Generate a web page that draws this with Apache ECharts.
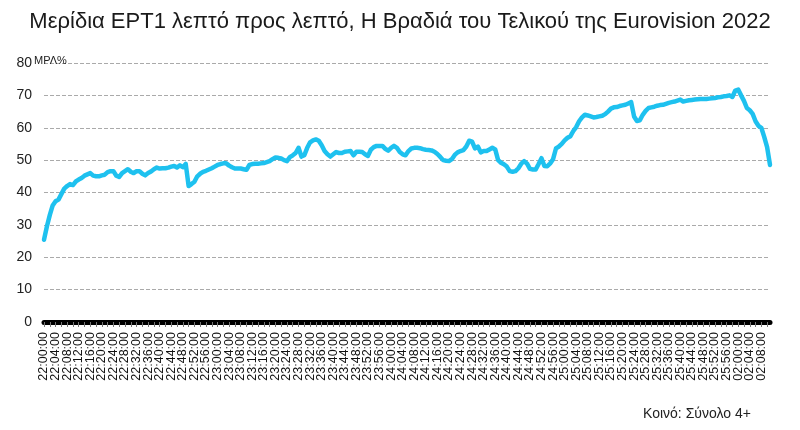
<!DOCTYPE html>
<html>
<head>
<meta charset="utf-8">
<style>
  html, body { margin: 0; padding: 0; background: #fff; }
  #chart { width: 800px; height: 430px; }
</style>
<script src="https://cdn.jsdelivr.net/npm/echarts@6/dist/echarts.min.js"></script>
</head>
<body>
<div id="chart"></div>
<script>
// ΜΡΛ% per minute, split by hour of the broadcast day (25:xx = 01:xx)
const share22 = [
  25.4, 29.5, 33, 36, 37.3, 37.8, 39.5, 41.2, 42, 42.6,
  42.3, 43.4, 44, 44.5, 45.2, 45.6, 46, 45.2, 45, 45,
  45.3, 45.5, 46.3, 46.6, 46.6, 45.2, 44.8, 46, 46.6, 47.2,
  46.4, 46, 46.6, 46.6, 45.8, 45.3, 46, 46.5, 47.2, 47.7,
  47.4, 47.5, 47.5, 47.7, 48, 48.2, 47.7, 48.4, 47.8, 48.8,
  42, 42.6, 43.3, 45, 45.8, 46.4, 46.7, 47.1, 47.5, 48
];
const share23 = [
  48.5, 48.8, 49, 49, 48.3, 47.8, 47.4, 47.4, 47.4, 47.2,
  47, 48.5, 48.8, 48.9, 48.9, 49, 49.1, 49.4, 49.7, 50.3,
  50.8, 50.7, 50.5, 50, 49.7, 50.9, 51.5, 52.2, 53.8, 51.1,
  51.5, 53.8, 55.5, 56.1, 56.4, 56, 54.6, 52.8, 51.8, 51.1,
  51.8, 52.5, 52.2, 52.2, 52.6, 52.7, 52.8, 51.5, 52.6, 52.6,
  52.5, 51.8, 51.3, 53.2, 54, 54.4, 54.4, 54.4, 53.5, 52.9
];
const share24 = [
  53.8, 54.4, 53.8, 52.5, 51.8, 51.5, 52.8, 53.6, 53.8, 53.8,
  53.7, 53.4, 53.2, 53.1, 53, 52.6, 51.9, 51, 50, 49.8,
  49.7, 50.3, 51.6, 52.4, 52.8, 53.1, 54.2, 56, 55.7, 53.6,
  54.2, 52.4, 52.8, 52.8, 53.3, 53.8, 53.3, 50, 49.2, 48.7,
  48, 46.6, 46.4, 46.6, 47.5, 48.9, 49.7, 48.9, 47.3, 47.1,
  47.1, 48.8, 50.6, 48.2, 48.1, 49, 50.3, 53.6, 54.2, 55
];
const share25 = [
  56.1, 56.9, 57.4, 59, 60.2, 62, 63.2, 64, 63.8, 63.5,
  63.2, 63.3, 63.5, 63.7, 64.2, 65, 65.9, 66.3, 66.4, 66.7,
  66.9, 67.1, 67.5, 67.9, 63.5, 62.1, 62.3, 64, 65.2, 66.1,
  66.3, 66.5, 66.8, 67, 67.1, 67.4, 67.7, 67.9, 68.1, 68.4,
  68.7, 68.1, 68.3, 68.5, 68.6, 68.7, 68.8, 68.9, 68.9, 68.9,
  69, 69.1, 69.2, 69.4, 69.5, 69.7, 69.8, 70, 69.5, 71.5
];
const share02 = [71.8, 70, 68.3, 66.1, 65.4, 64.3, 62, 60.6, 60, 57.2, 54, 48.5];

const shares = [].concat(share22, share23, share24, share25, share02);

// minute labels: 22:00:00 ... 25:59:00, then the source switches to 02:MM:00
const startHour = 22;
const pad = (n) => String(n).padStart(2, "0");
const minutes = shares.map((_, i) => {
  let h = startHour + Math.floor(i / 60);
  if (h > 25) h -= 24;
  return pad(h) + ":" + pad(i % 60) + ":00";
});

const titleText = "Μερίδια ΕΡΤ1 λεπτό προς λεπτό, Η Βραδιά του Τελικού της Eurovision 2022";
const unitText = "ΜΡΛ%";
const footText = "Κοινό: Σύνολο 4+";

const FONT = "Liberation Sans, Arial, sans-serif";

// labels every 4 minutes are too tight for echarts' overlap check,
// so they are split over two stacked axes (offset 0 and offset 4 minutes)
function labelAxis(phase, withLine) {
  return {
    type: "category",
    data: minutes,
    boundaryGap: false,
    position: "bottom",
    axisLine: { show: withLine, lineStyle: { color: "#000", width: 5 } },
    axisTick: {
      show: withLine,
      interval: 1,
      length: 5,
      lineStyle: { color: "#777", width: 1 }
    },
    axisLabel: {
      interval: (i) => i % 8 === phase,
      rotate: 90,
      margin: 10,
      fontFamily: FONT,
      fontSize: 12.5,
      color: "#111"
    },
    splitLine: { show: false }
  };
}

const chart = echarts.init(document.getElementById("chart"));

chart.setOption({
  backgroundColor: "#ffffff",
  animation: false,
  textStyle: { fontFamily: FONT },
  title: [
    {
      text: titleText,
      left: "center",
      top: 6,
      textStyle: { fontFamily: FONT, fontSize: 22, fontWeight: "normal", color: "#1a1a1a" }
    },
    {
      text: unitText,
      left: 29,
      top: 50,
      textStyle: { fontFamily: FONT, fontSize: 11, fontWeight: "normal", color: "#222" }
    },
    {
      text: footText,
      left: 638,
      top: 402,
      textStyle: { fontFamily: FONT, fontSize: 14, fontWeight: "normal", color: "#222" }
    }
  ],
  grid: { left: 44, right: 30, top: 63, bottom: 108 },
  xAxis: [labelAxis(0, true), labelAxis(4, false)],
  yAxis: {
    type: "value",
    min: 0,
    max: 80,
    interval: 10,
    axisLine: { show: false },
    axisTick: { show: false },
    axisLabel: { fontFamily: FONT, fontSize: 14, color: "#222", margin: 12 },
    splitLine: { lineStyle: { color: "#aaa", type: [4, 2], width: 1 } }
  },
  series: [
    {
      type: "line",
      data: shares,
      showSymbol: false,
      lineStyle: { color: "#1ec1ef", width: 4.5, join: "round", cap: "round" },
      z: 3
    }
  ]
});
</script>
</body>
</html>
